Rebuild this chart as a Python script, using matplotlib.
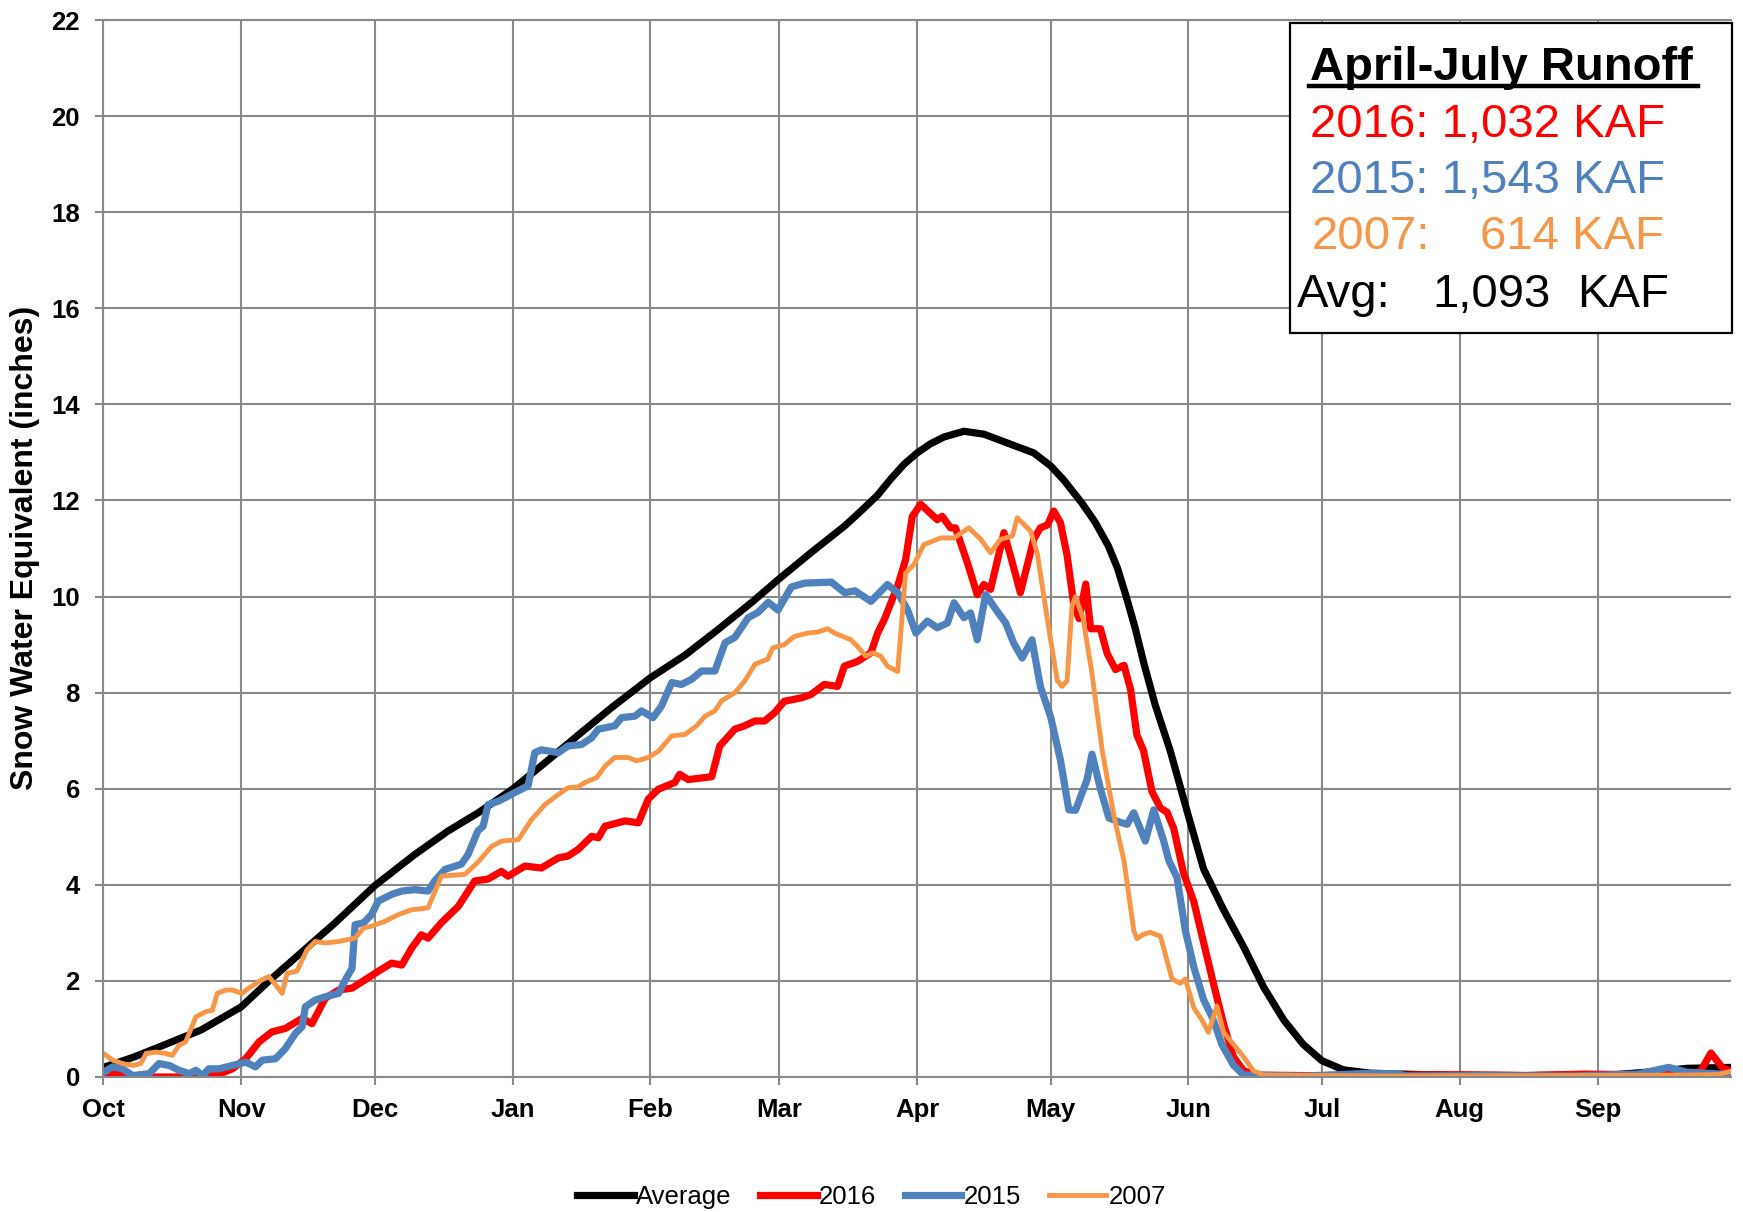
import matplotlib
matplotlib.use("Agg")
import matplotlib.pyplot as plt
from matplotlib.lines import Line2D
from matplotlib.patches import Rectangle

plt.rcParams['font.family'] = ['Liberation Sans', 'DejaVu Sans']

# day of water year (0 = Oct 1) and snow water equivalent (inches)
avg_day = [0, 7, 14, 22, 31, 37, 44, 52, 61, 70, 77.5, 84.3, 92, 99.3, 106.8, 114.3, 123, 130.8,
           138.3, 145.8, 152.1, 159.2, 166.7, 170, 174, 177, 180, 183, 186, 189, 193.5, 198, 204,
           209.2, 213, 216, 220, 223, 226, 228, 230, 232, 234, 236.5, 239.9, 244, 247.4, 251.9,
           256.4, 260.9, 265.4, 269.8, 274, 278.8, 284.8, 300, 320, 340, 350, 356, 366]
avg_swe = [0.2, 0.42, 0.68, 0.98, 1.46, 1.98, 2.55, 3.2, 3.98, 4.63, 5.12, 5.5, 5.99, 6.54, 7.12,
           7.69, 8.31, 8.78, 9.32, 9.88, 10.38, 10.92, 11.47, 11.75, 12.1, 12.44, 12.75, 12.99,
           13.18, 13.32, 13.44, 13.38, 13.17, 12.99, 12.72, 12.42, 11.95, 11.55, 11.05, 10.6,
           10.0, 9.35, 8.6, 7.75, 6.79, 5.43, 4.33, 3.48, 2.71, 1.87, 1.19, 0.68, 0.34, 0.15,
           0.08, 0.04, 0.03, 0.05, 0.12, 0.18, 0.2]

y2016_day = [0, 2.8, 6.6, 14, 21.5, 25.2, 29, 32, 35, 37.9, 40.9, 44.7, 46.9, 49.9, 52.9, 55.9,
             58.8, 61.8, 64.8, 67.1, 69.3, 71.5, 73, 76, 79.8, 83.5, 86.5, 89.5, 91, 94.8, 98.5,
             102.3, 104.5, 106.8, 109.8, 111.3, 112.8, 117.3, 120.3, 122.5, 124.8, 128.5, 129.6,
             131.5, 136.8, 138.6, 142, 144.2, 146.5, 148.7, 150.9, 153.1, 156.9, 159.1, 162.1,
             165.1, 166.6, 169.6, 172.6, 174.1, 175.6, 178.6, 180.4, 181.9, 183.8, 187.5, 188.6,
             190.5, 191.6, 194.3, 196.5, 198, 199.5, 202.5, 204, 206.2, 209.2, 210.7, 212.3,
             213.7, 215.2, 216.7, 218.2, 219.4, 220.9, 222, 224.2, 225.7, 227.6, 229.5, 231,
             232.4, 233.9, 235.8, 237.7, 239.2, 240.7, 242.9, 245.2, 247.4, 249.6, 251.9, 254.1,
             256.4, 259.4, 280, 300, 320, 333, 345, 352, 359, 361.5, 364, 366]
y2016_swe = [0.0, 0.07, 0.0, 0.0, 0.0, 0.03, 0.17, 0.38, 0.73, 0.94, 1.01, 1.22, 1.11, 1.64, 1.81,
             1.85, 2.02, 2.2, 2.37, 2.33, 2.68, 2.96, 2.89, 3.21, 3.55, 4.08, 4.12, 4.28, 4.18,
             4.39, 4.35, 4.56, 4.6, 4.74, 5.01, 4.98, 5.22, 5.33, 5.29, 5.78, 5.99, 6.13, 6.3,
             6.19, 6.25, 6.89, 7.24, 7.31, 7.41, 7.41, 7.58, 7.82, 7.89, 7.96, 8.17, 8.13, 8.55,
             8.65, 8.83, 9.24, 9.52, 10.22, 10.77, 11.67, 11.92, 11.6, 11.67, 11.43, 11.43, 10.7,
             10.04, 10.25, 10.15, 11.33, 10.84, 10.08, 11.19, 11.43, 11.49, 11.78, 11.54, 10.86,
             9.84, 9.54, 10.26, 9.33, 9.33, 8.82, 8.48, 8.57, 8.06, 7.12, 6.79, 5.94, 5.6, 5.51,
             5.17, 4.24, 3.65, 2.8, 1.95, 1.1, 0.42, 0.13, 0.04, 0.02, 0.05, 0.03, 0.06, 0.05,
             0.08, 0.1, 0.5, 0.2, 0.12]

y2015_day = [0, 2.1, 4.3, 6.6, 10.3, 12.5, 14.8, 17, 19.3, 20.8, 22.3, 23.7, 26, 29, 32, 34.2,
             35.7, 38.7, 40.9, 43.2, 44.7, 45.4, 47.6, 49.9, 52.9, 54.4, 55.9, 56.6, 58.5, 60.3,
             61.8, 64.8, 67.1, 70, 73, 74.5, 76.8, 80.5, 82, 84.2, 85.4, 86.5, 88.8, 90.3, 92.5,
             95.5, 97, 98.5, 102.3, 104.5, 107.5, 109.8, 111.3, 115, 116.5, 119.5, 121, 123.6,
             125.5, 127.8, 130, 132.3, 134.5, 137.5, 139.8, 142, 145, 147.2, 149.5, 151.7, 154.7,
             157.7, 163.7, 165.2, 166.7, 169, 172.6, 176.3, 178.6, 180.8, 182.7, 185.3, 187.5,
             189.8, 191.3, 193.5, 195, 196.5, 198.4, 201, 202.9, 204.7, 206.6, 208.8, 210.7, 213,
             215.2, 217.1, 218.6, 221.2, 222.3, 224.2, 226.1, 228.7, 230.2, 231.7, 234.3, 236.2,
             238.4, 239.6, 241.4, 243.3, 245.2, 247.4, 249.6, 251.5, 254.1, 256.4, 270, 283, 291,
             293, 310, 330, 345, 352, 356, 366]
y2015_swe = [0.1, 0.21, 0.17, 0.03, 0.07, 0.28, 0.24, 0.14, 0.07, 0.14, 0.03, 0.17, 0.17, 0.24,
             0.31, 0.21, 0.35, 0.38, 0.59, 0.91, 1.05, 1.46, 1.6, 1.67, 1.74, 2.02, 2.26, 3.17,
             3.21, 3.38, 3.66, 3.8, 3.87, 3.9, 3.87, 4.08, 4.32, 4.43, 4.63, 5.12, 5.22, 5.67,
             5.74, 5.81, 5.92, 6.06, 6.75, 6.81, 6.75, 6.89, 6.92, 7.06, 7.24, 7.31, 7.48, 7.51,
             7.62, 7.48, 7.72, 8.21, 8.17, 8.28, 8.45, 8.45, 9.04, 9.15, 9.56, 9.67, 9.88, 9.72,
             10.2, 10.28, 10.3, 10.19, 10.08, 10.12, 9.9, 10.25, 10.08, 9.73, 9.24, 9.49, 9.35,
             9.45, 9.87, 9.56, 9.66, 9.1, 10.04, 9.69, 9.45, 9.03, 8.72, 9.1, 8.13, 7.5, 6.6,
             5.56, 5.55, 6.19, 6.72, 6.0, 5.39, 5.3, 5.26, 5.5, 4.91, 5.56, 4.92, 4.5, 4.16, 3.05,
             2.29, 1.61, 1.19, 0.68, 0.25, 0.04, 0.02, 0.07, 0.07, 0.02, 0.03, 0.02, 0.06, 0.2,
             0.1, 0.05]

y2007_day = [0, 2.1, 4.3, 6.6, 8.4, 9.6, 11.8, 14, 15.5, 17, 18.5, 20.8, 23, 24.5, 25.6, 27.5,
             29, 31.2, 32.7, 35, 37.2, 38.7, 40.2, 41.3, 43.5, 45.8, 47.6, 49.9, 52.9, 56.6,
             58.5, 60.3, 63.3, 66.3, 69.3, 73, 76, 81.3, 84.2, 87.3, 89.5, 93.3, 96.3, 99.3,
             102.3, 104.5, 106.8, 108.3, 110.9, 112.8, 115, 118, 119.9, 122.5, 124.8, 127.8,
             130.8, 133.4, 135.3, 137.5, 139, 142, 144.2, 146.5, 149.4, 150.5, 153.1, 155.4,
             158.4, 160.6, 162.9, 164.4, 168.1, 169.6, 171.4, 172.9, 174.8, 176.3, 178.6, 180.4,
             182.3, 184.5, 188.3, 191.3, 194.6, 197.3, 199.5, 201.7, 204.4, 205.5, 208.5, 210,
             212.3, 214.5, 215.6, 216.7, 217.8, 218.6, 220.3, 222.3, 224.6, 227.2, 229.5, 231.7,
             232.4, 233.9, 235.4, 237.7, 240.3, 242.2, 243.3, 245.2, 247, 248.5, 250.4, 251.9,
             254.1, 256.4, 258.6, 260.9, 290, 330, 355, 363, 366]
y2007_swe = [0.49, 0.35, 0.28, 0.24, 0.28, 0.49, 0.52, 0.49, 0.45, 0.66, 0.73, 1.25, 1.36, 1.39,
             1.74, 1.81, 1.81, 1.74, 1.85, 1.99, 2.09, 1.92, 1.74, 2.16, 2.2, 2.65, 2.82, 2.79,
             2.82, 2.89, 3.1, 3.14, 3.24, 3.38, 3.48, 3.52, 4.18, 4.22, 4.47, 4.8, 4.91, 4.94,
             5.36, 5.67, 5.88, 6.02, 6.04, 6.13, 6.23, 6.47, 6.65, 6.65, 6.58, 6.65, 6.78, 7.1,
             7.13, 7.31, 7.51, 7.62, 7.83, 8.0, 8.24, 8.59, 8.7, 8.93, 9.0, 9.17, 9.24, 9.26,
             9.33, 9.24, 9.1, 8.96, 8.76, 8.83, 8.76, 8.55, 8.44, 10.49, 10.67, 11.08, 11.22,
             11.22, 11.43, 11.19, 10.91, 11.19, 11.26, 11.64, 11.36, 10.9, 9.5, 8.25, 8.13, 8.25,
             9.8, 10.0, 9.55, 8.4, 6.8, 5.45, 4.5, 3.05, 2.88, 2.97, 3.01, 2.93, 2.04, 1.95, 2.04,
             1.44, 1.19, 0.93, 1.48, 0.93, 0.68, 0.42, 0.13, 0.04, 0.02, 0.03, 0.04, 0.05, 0.12]

month_start = [0, 31, 61, 92, 123, 152, 183, 213, 244, 274, 305, 336]
month_names = ['Oct', 'Nov', 'Dec', 'Jan', 'Feb', 'Mar', 'Apr', 'May', 'Jun', 'Jul', 'Aug', 'Sep']

W, H = 1743, 1212
grid_col = '#898989'

fig = plt.figure(figsize=(W / 100, H / 100), dpi=100)
ax = fig.add_axes([103.4 / W, 1 - 1077 / H, (1731 - 103.4) / W, (1077 - 20) / H])

ax.plot(avg_day, avg_swe, color='black', lw=5.2, label='Average', solid_joinstyle='round')
ax.plot(y2016_day, y2016_swe, color='#FF0000', lw=5.2, label='2016', solid_joinstyle='round')
ax.plot(y2015_day, y2015_swe, color='#4F81BD', lw=5.2, label='2015', solid_joinstyle='round')
ax.plot(y2007_day, y2007_swe, color='#F79646', lw=3.5, label='2007', solid_joinstyle='round')

ax.set_xlim(0, 366)
ax.set_ylim(0, 22)
ax.set_xticks(month_start)
ax.set_xticklabels(month_names, fontsize=18.5, fontweight='bold')
ax.set_yticks(range(0, 23, 2))
ax.set_yticklabels([str(v) for v in range(0, 23, 2)], fontsize=18.5, fontweight='bold')
ax.tick_params(axis='both', direction='out', length=6, width=1.5, color=grid_col)
ax.tick_params(axis='y', pad=11)
ax.tick_params(axis='x', pad=9)
ax.grid(True, color=grid_col, lw=1.5)
ax.set_axisbelow(True)
for side in ['left', 'bottom', 'top']:
    ax.spines[side].set_color(grid_col)
    ax.spines[side].set_linewidth(1.5)
ax.spines['right'].set_visible(False)

fig.text(25 / W, 1 - 548 / H, 'Snow Water Equivalent (inches)', rotation=90,
         ha='center', va='center', fontsize=23, fontweight='bold')

fig.legend(loc='center', bbox_to_anchor=(0.5, 1 - 1197 / H), ncol=4, frameon=False,
           fontsize=18.5, handlelength=2.2, handletextpad=0.1, columnspacing=1.1)

# runoff box
def fx(x):
    return x / W

def fy(y):
    return 1 - y / H

box = Rectangle((fx(1290), fy(333)), (1732 - 1290) / W, (333 - 23) / H, transform=fig.transFigure,
                facecolor='white', edgecolor='black', lw=1.6, zorder=2)
fig.add_artist(box)
fig.text(fx(1310), fy(80), 'April-July Runoff', fontsize=34, fontweight='bold', va='baseline', zorder=4)
fig.add_artist(Line2D([fx(1309), fx(1698)], [fy(86), fy(86)], color='black', lw=3.2,
                      transform=fig.transFigure, zorder=4))
fig.text(fx(1310), fy(137), '2016: 1,032 KAF', fontsize=34, color='#FF0000', va='baseline', zorder=4)
fig.text(fx(1310), fy(193), '2015: 1,543 KAF', fontsize=34, color='#4F81BD', va='baseline', zorder=4)
fig.text(fx(1312), fy(249), '2007:', fontsize=34, color='#F79646', va='baseline', zorder=4)
fig.text(fx(1480), fy(249), '614 KAF', fontsize=34, color='#F79646', va='baseline', zorder=4)
fig.text(fx(1297), fy(307), 'Avg:', fontsize=34, color='black', va='baseline', zorder=4)
fig.text(fx(1432), fy(307), '1,093', fontsize=34, color='black', va='baseline', zorder=4)
fig.text(fx(1577), fy(307), 'KAF', fontsize=34, color='black', va='baseline', zorder=4)

fig.savefig('out.png', dpi=100)
